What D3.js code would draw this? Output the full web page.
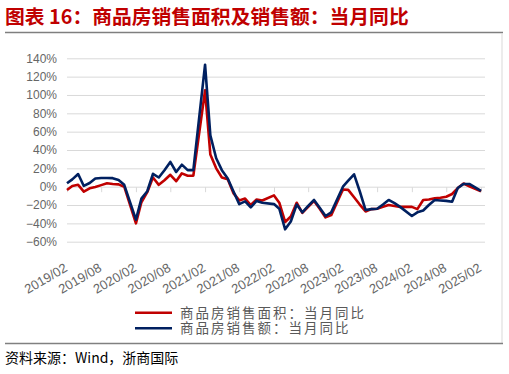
<!DOCTYPE html>
<html><head><meta charset="utf-8">
<script src="https://cdn.jsdelivr.net/npm/d3@7"></script>
<style>body{margin:0;background:#fff;} svg{display:block;}</style>
</head><body><svg id="c" width="509" height="374"></svg>
<script>
// ---- data ----
const months = [
 "2019-02","2019-03","2019-04","2019-05","2019-06","2019-07","2019-08","2019-09","2019-10","2019-11","2019-12",
 "2020-02","2020-03","2020-04","2020-05","2020-06","2020-07","2020-08","2020-09","2020-10","2020-11","2020-12",
 "2021-02","2021-03","2021-04","2021-05","2021-06","2021-07","2021-08","2021-09","2021-10","2021-11","2021-12",
 "2022-02","2022-03","2022-04","2022-05","2022-06","2022-07","2022-08","2022-09","2022-10","2022-11","2022-12",
 "2023-02","2023-03","2023-04","2023-05","2023-06","2023-07","2023-08","2023-09","2023-10","2023-11","2023-12",
 "2024-02","2024-03","2024-04","2024-05","2024-06","2024-07","2024-08","2024-09","2024-10","2024-11","2024-12",
 "2025-02"
];
// 商品房销售面积：当月同比 (%)
const salesArea = [
 -3.6, 0.8, 2, -5.4, -1.8, -0.3, 1.7, 3.7, 3, 2.5, 0,
 -40, -17, -6, 10, 2, 7, 13, 6, 14.5, 12, 12,
 105, 35, 20, 10, 8, -7, -15, -13, -20, -14, -15,
 -9.5, -17.5, -38.5, -32.5, -17.5, -28.5, -22, -15.5, -24, -33.5, -31,
 -3, -3.5, -11.5, -19.5, -27, -24.5, -24, -22, -20, -21, -22,
 -22, -24.5, -14.5, -14, -12.7, -12, -11, -8, -1.5, 3.5, 0.5,
 -5
];
// 商品房销售额：当月同比 (%)
const salesValue = [
 3.7, 8, 13.8, 0.8, 4, 9, 9.5, 9.5, 9.3, 7.3, 2,
 -36, -13, -5, 14, 10, 18, 27, 16, 24, 18, 18,
 133, 56, 31, 18, 9, -5, -19, -16, -22.5, -15.5, -17.5,
 -19, -24, -46.5, -38, -19.5, -28, -21, -14.5, -23, -32, -28,
 0, 6.5, 13.5, -5, -25.5, -24.5, -24, -19.5, -14.5, -18, -22,
 -32, -28, -26, -20, -14.5, -15, -15.5, -16.5, -1.5, 3, 3,
 -4.5
];
const yTicks = [-60, -40, -20, 0, 20, 40, 60, 80, 100, 120, 140];
const xTickLabels = ["2019/02","2019/08","2020/02","2020/08","2021/02","2021/08","2022/02",
                     "2022/08","2023/02","2023/08","2024/02","2024/08","2025/02"];
const title = "图表 16：商品房销售面积及销售额：当月同比";
const seriesNames = ["商品房销售面积：当月同比", "商品房销售额：当月同比"];
const source = "资料来源：Wind，浙商国际";

// ---- chart ----
const svg = d3.select("#c");
const parseM = d3.timeParse("%Y-%m");
const parseT = d3.timeParse("%Y/%m");
const colors = ["#C00000", "#002060"];

const x = d3.scaleTime().domain([parseM("2019-02"), parseM("2025-02")]).range([67, 481]);
const y = d3.scaleLinear().domain([-60, 140]).range([241.7, 58.3]);
const plotRight = 485;

// title
svg.append("text").attr("x", 5).attr("y", 23.5)
  .attr("font-family", "'Noto Sans CJK SC', sans-serif").attr("font-weight", "bold")
  .attr("font-size", "19.8px").attr("fill", "#C00000").text(title);
svg.append("line").attr("x1", 5).attr("x2", 503).attr("y1", 32.5).attr("y2", 32.5)
  .attr("stroke", "#7f7f7f").attr("stroke-width", 1.5);
svg.append("line").attr("x1", 502).attr("x2", 502).attr("y1", 33).attr("y2", 343)
  .attr("stroke", "#d9d9d9").attr("stroke-width", 1);

// gridlines
svg.append("g").selectAll("line").data(yTicks).join("line")
  .attr("x1", x.range()[0]).attr("x2", plotRight)
  .attr("y1", d => y(d) + 0.5).attr("y2", d => y(d) + 0.5)
  .attr("stroke", "#d9d9d9").attr("stroke-width", 1);

// y axis labels
const yAxis = svg.append("g").attr("transform", `translate(${x.range()[0]},0)`)
  .call(d3.axisLeft(y).tickValues(yTicks).tickSize(0).tickPadding(10)
    .tickFormat(d => (d < 0 ? "\u2212" + Math.abs(d) : d) + "%"));
yAxis.select(".domain").remove();
yAxis.selectAll("text").attr("font-family", "'Liberation Sans', Arial, sans-serif")
  .attr("font-size", "12px").attr("fill", "#666666");

// x axis (tick marks on the 0% line)
const tickDates = xTickLabels.map(parseT);
const xAxis0 = svg.append("g").attr("transform", `translate(0,${y(0) + 0.5})`)
  .call(d3.axisBottom(x).tickValues(tickDates).tickSize(5).tickFormat(""));
xAxis0.select(".domain").remove();
xAxis0.selectAll("line").attr("stroke", "#d9d9d9");

// x labels at bottom
const xAxisL = svg.append("g").attr("transform", `translate(0,271)`)
  .call(d3.axisBottom(x).tickValues(tickDates).tickSize(0).tickFormat(d3.timeFormat("%Y/%m")));
xAxisL.select(".domain").remove();
xAxisL.selectAll(".tick text")
  .attr("font-family", "'Liberation Sans', Arial, sans-serif").attr("font-size", "13px")
  .attr("fill", "#666666").attr("text-anchor", "end").attr("dy", 0).attr("y", 0).attr("x", 1)
  .attr("transform", "rotate(-30)");

// lines
const data = months.map((m, i) => ({ date: parseM(m), area: salesArea[i], value: salesValue[i] }));
const lineA = d3.line().x(d => x(d.date)).y(d => y(d.area));
const lineV = d3.line().x(d => x(d.date)).y(d => y(d.value));
svg.append("path").datum(data).attr("d", lineA).attr("fill", "none")
  .attr("stroke", colors[0]).attr("stroke-width", 2.6).attr("stroke-linejoin", "round");
svg.append("path").datum(data).attr("d", lineV).attr("fill", "none")
  .attr("stroke", colors[1]).attr("stroke-width", 2.6).attr("stroke-linejoin", "round");

// legend
const lg = svg.append("g");
const rowGap = 15.6, row0 = 312.7;
lg.selectAll("line").data(seriesNames).join("line")
  .attr("x1", 135).attr("x2", 172)
  .attr("y1", (d, i) => row0 + i * rowGap).attr("y2", (d, i) => row0 + i * rowGap)
  .attr("stroke", (d, i) => colors[i]).attr("stroke-width", 2.6);
lg.selectAll("text").data(seriesNames).join("text")
  .attr("x", 180).attr("y", (d, i) => row0 + i * rowGap + 5)
  .attr("font-family", "'Liberation Sans', 'Noto Sans CJK SC', sans-serif").attr("font-size", "13.5px")
  .attr("letter-spacing", "2px").attr("fill", "#595959").text(d => d);

// bottom rule and source
svg.append("line").attr("x1", 5).attr("x2", 503).attr("y1", 343.5).attr("y2", 343.5)
  .attr("stroke", "#808080").attr("stroke-width", 1.5);
svg.append("text").attr("x", 5).attr("y", 362.5)
  .attr("font-family", "'Noto Sans CJK SC', sans-serif").attr("font-size", "14px")
  .attr("fill", "#000").text(source);
</script>
</body></html>
